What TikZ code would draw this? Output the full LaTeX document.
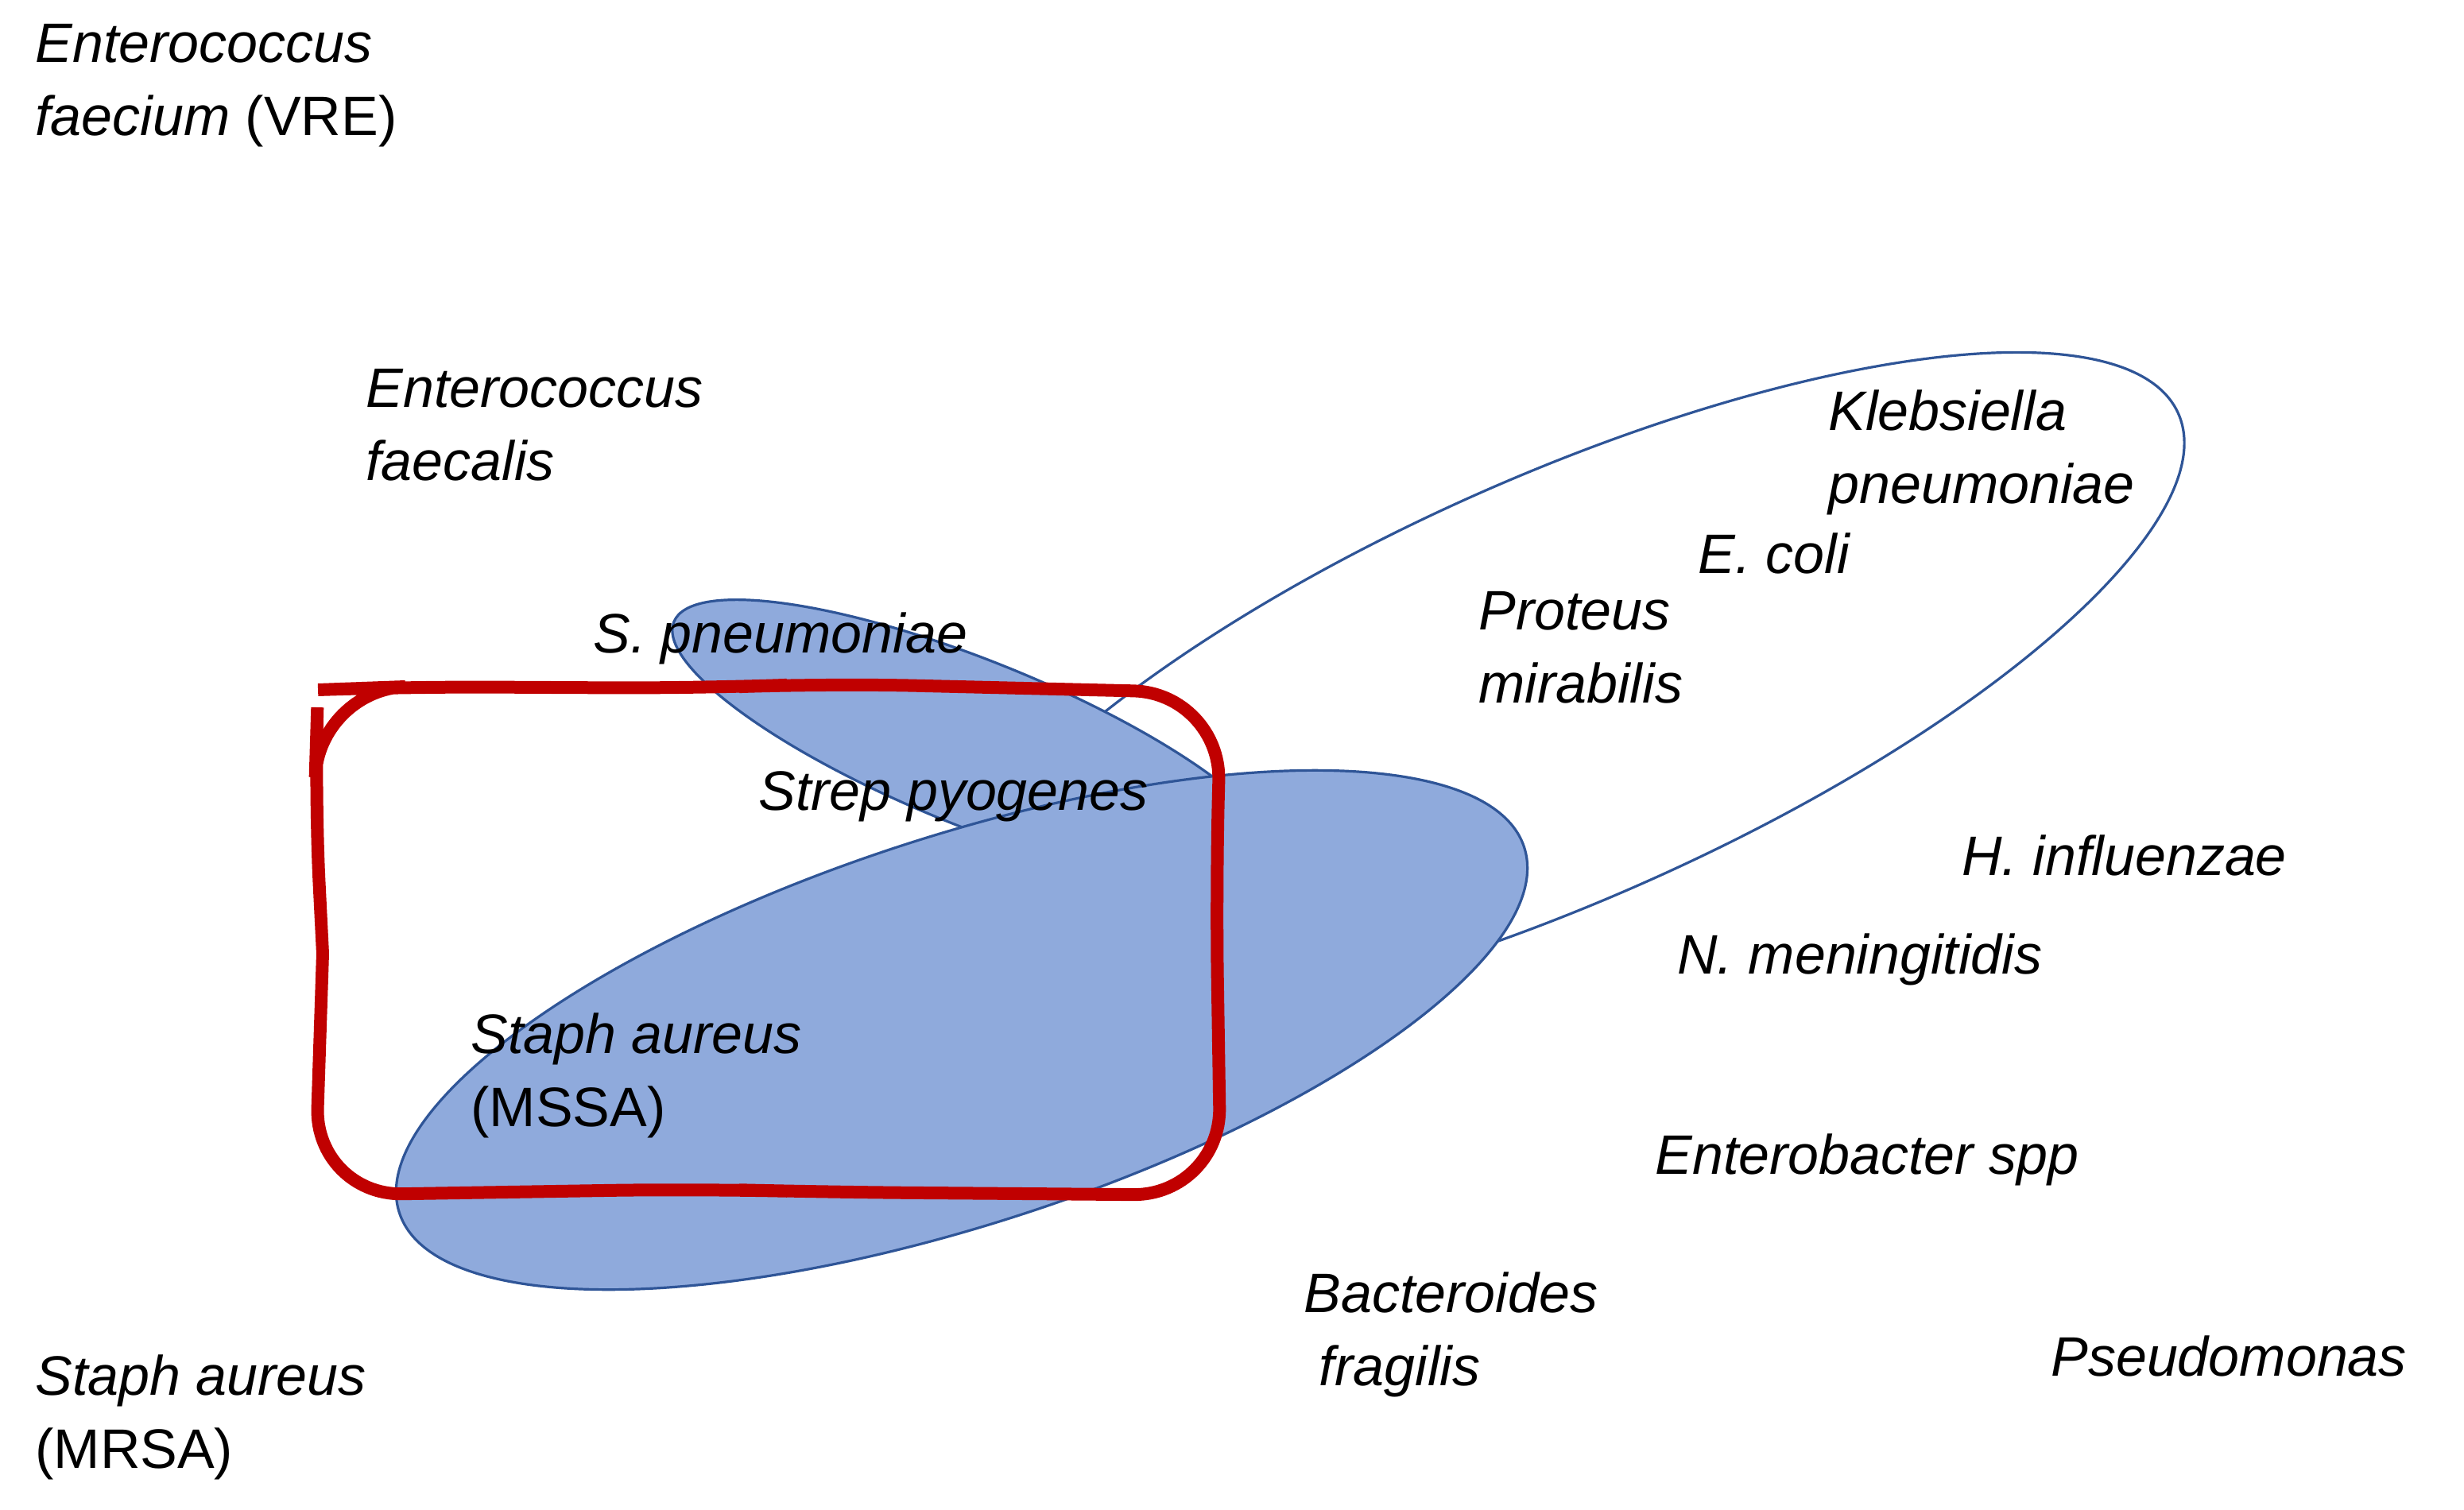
\documentclass[tikz,border=0pt]{standalone}
\usepackage{fontspec}
\setmainfont{Liberation Sans}
\begin{document}
\begin{tikzpicture}[x=1pt,y=-1pt,
  lab/.style={anchor=north west,align=left,inner sep=0pt,font=\fontsize{35}{46}\selectfont},
  fillell/.style={fill={rgb,255:red,143;green,170;blue,220},draw={rgb,255:red,47;green,85;blue,151},line width=1.6pt}]
\useasboundingbox (0,0) rectangle (1550,950);
\draw[draw={rgb,255:red,47;green,85;blue,151},line width=1.6pt,rotate around={24:(982,433)}] (982,433) ellipse [x radius=425,y radius=133];
\path[fillell,rotate around={-22:(614,468)}] (614,468) ellipse [x radius=205,y radius=52];
\path[fillell,rotate around={18:(605,648)}] (605,648) ellipse [x radius=372,y radius=122];
\draw[draw={rgb,255:red,192;green,0;blue,0},line width=8pt,rounded corners=55,line cap=round]
 (203,600) -- (198,500) -- (200,434) -- (255,432) -- (440,433) -- (520,430) -- (768,436) -- (765,560) -- (768,752) -- (520,750) -- (440,748) -- (198,752) -- (203,600);
\node[lab] (vre) at (22,15) {\itshape Enterococcus\\\itshape faecium\upshape{} (VRE)};
\node[lab] (efs) at (230,232) {\itshape Enterococcus\\\itshape faecalis};
\node[lab] (spn) at (373,385) {\itshape S. pneumoniae};
\node[lab] (spy) at (477,485) {\itshape Strep pyogenes};
\node[lab] (mssa) at (296,637) {\itshape Staph aureus\\(MSSA)};
\node[lab] (kp) at (1150,245) {\itshape Klebsiella\\\itshape pneumoniae};
\node[lab] (ec) at (1068,335) {\itshape E. coli};
\node[lab] (pm) at (930,372) {\itshape Proteus\\\itshape mirabilis};
\node[lab] (hi) at (1234,525) {\itshape H. influenzae};
\node[lab] (nm) at (1055,587) {\itshape N. meningitidis};
\node[lab] (ent) at (1041,713) {\itshape Enterobacter spp};
\node[lab] (bf) at (820,800) {\itshape Bacteroides\\\itshape \ fragilis};
\node[lab] (ps) at (1290,840) {\itshape Pseudomonas};
\node[lab] (mrsa) at (22,852) {\itshape Staph aureus\\(MRSA)};
\end{tikzpicture}
\end{document}
